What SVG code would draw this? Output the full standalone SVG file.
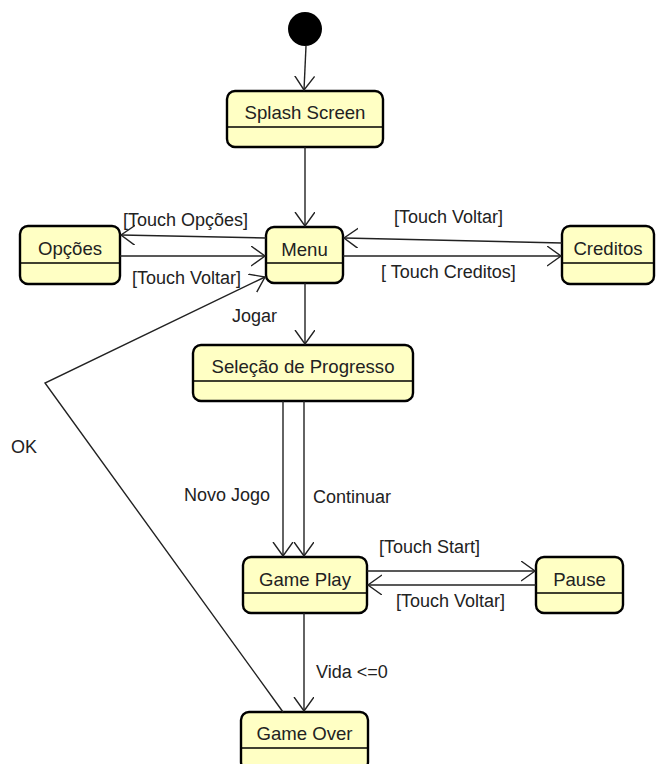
<svg xmlns="http://www.w3.org/2000/svg" width="656" height="764" viewBox="0 0 656 764">
<style>
  .st rect { fill: #ffffc4; stroke: #000; stroke-width: 2.4; }
  .st line { stroke: #000; stroke-width: 1.5; }
  .st text { font-family: "Liberation Sans", Arial, sans-serif; font-size: 18.6px; fill: #222; text-anchor: middle; }
  .edges line, .edges polyline { stroke: #222; stroke-width: 1.4; fill: none; marker-end: url(#arr); }
  .lbl { font-family: "Liberation Sans", Arial, sans-serif; font-size: 18px; fill: #222; }
</style>
<defs>
  <marker id="arr" markerUnits="userSpaceOnUse" markerWidth="20" markerHeight="24" refX="14" refY="10" orient="auto" viewBox="0 0 20 24">
    <path d="M0,0 L14,10 L0,20" fill="none" stroke="#222" stroke-width="1.4"/>
  </marker>
</defs>
<rect width="656" height="764" fill="#fff"/>

<g id="initial"><circle cx="305" cy="29" r="17" fill="#000"/></g>

<g id="splash" class="st">
  <rect x="227" y="91" width="156" height="56" rx="8"/>
  <line x1="227" y1="127" x2="383" y2="127"/>
  <text x="305" y="119">Splash Screen</text>
</g>
<g id="menu" class="st">
  <rect x="266" y="227" width="77" height="56" rx="8"/>
  <line x1="266" y1="263" x2="343" y2="263"/>
  <text x="304.5" y="256">Menu</text>
</g>
<g id="opcoes" class="st">
  <rect x="20" y="226" width="100" height="58" rx="8"/>
  <line x1="20" y1="263" x2="120" y2="263"/>
  <text x="70" y="255">Opções</text>
</g>
<g id="creditos" class="st">
  <rect x="562" y="226" width="92" height="58" rx="8"/>
  <line x1="562" y1="263" x2="654" y2="263"/>
  <text x="608" y="255">Creditos</text>
</g>
<g id="selecao" class="st">
  <rect x="193" y="345" width="220" height="56" rx="8"/>
  <line x1="193" y1="381" x2="413" y2="381"/>
  <text x="303" y="373">Seleção de Progresso</text>
</g>
<g id="gameplay" class="st">
  <rect x="243" y="557" width="124" height="56" rx="8"/>
  <line x1="243" y1="593" x2="367" y2="593"/>
  <text x="305" y="586">Game Play</text>
</g>
<g id="pause" class="st">
  <rect x="536" y="557" width="87" height="56" rx="8"/>
  <line x1="536" y1="593" x2="623" y2="593"/>
  <text x="579.5" y="586">Pause</text>
</g>
<g id="gameover" class="st">
  <rect x="241" y="712" width="127" height="58" rx="8"/>
  <line x1="241" y1="748" x2="368" y2="748"/>
  <text x="304.5" y="740">Game Over</text>
</g>

<g id="connectors" class="edges">
  <line x1="306" y1="46" x2="304" y2="90"/>
  <line x1="305" y1="147" x2="305" y2="226"/>
  <line x1="266" y1="238" x2="121" y2="235"/>
  <line x1="120" y1="256" x2="265" y2="256"/>
  <line x1="343" y1="256" x2="561" y2="256"/>
  <line x1="562" y1="243" x2="344" y2="238"/>
  <line x1="305" y1="283" x2="305" y2="344"/>
  <line x1="283" y1="401" x2="283" y2="556"/>
  <line x1="304" y1="401" x2="304" y2="556"/>
  <line x1="367" y1="571" x2="535" y2="571"/>
  <line x1="536" y1="585" x2="368" y2="585"/>
  <line x1="304" y1="613" x2="304" y2="711"/>
  <polyline points="283,712 45,383 265,277"/>
</g>

<g id="labels">
  <text class="lbl" x="123" y="226">[Touch Opções]</text>
  <text class="lbl" x="132" y="284">[Touch Voltar]</text>
  <text class="lbl" x="394" y="223">[Touch Voltar]</text>
  <text class="lbl" x="381" y="278">[ Touch Creditos]</text>
  <text class="lbl" x="232" y="322">Jogar</text>
  <text class="lbl" x="11" y="453">OK</text>
  <text class="lbl" x="184" y="501">Novo Jogo</text>
  <text class="lbl" x="313" y="503">Continuar</text>
  <text class="lbl" x="379" y="553">[Touch Start]</text>
  <text class="lbl" x="396" y="607">[Touch Voltar]</text>
  <text class="lbl" x="316" y="678">Vida &lt;=0</text>
</g>
</svg>
